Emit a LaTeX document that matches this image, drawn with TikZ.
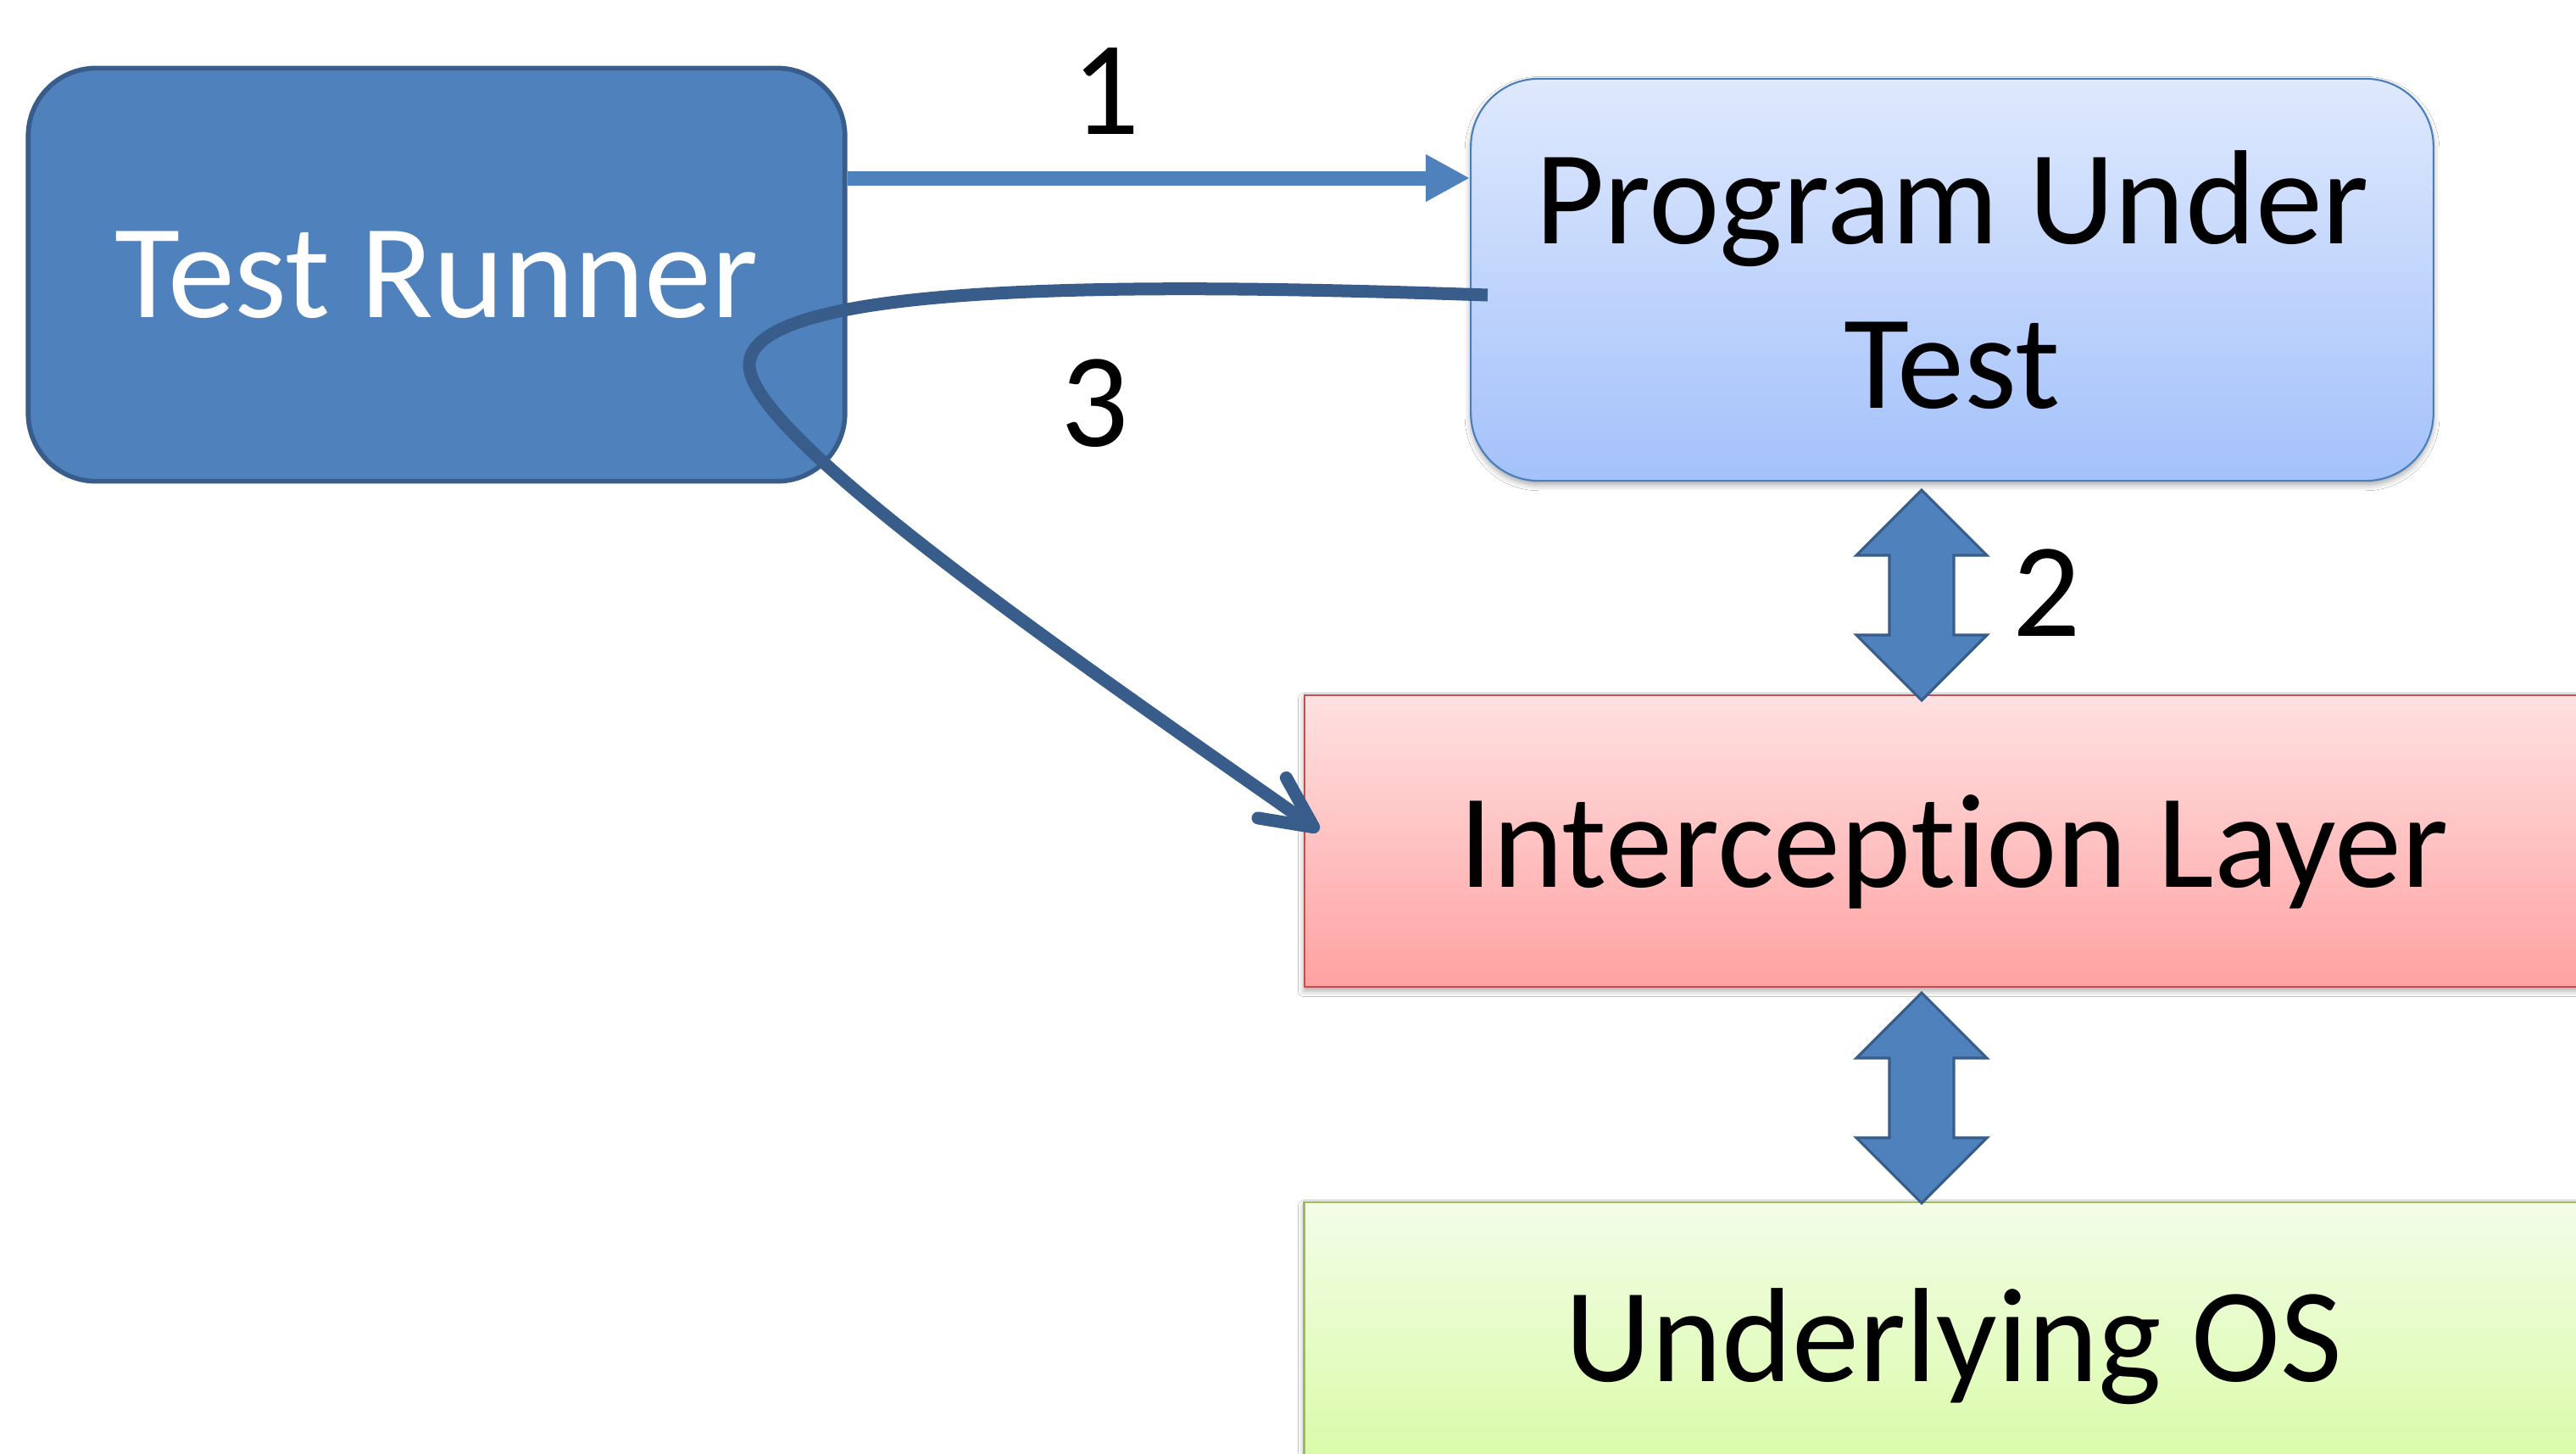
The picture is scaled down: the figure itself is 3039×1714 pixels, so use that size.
\documentclass[tikz,border=0pt]{standalone}
\usepackage{fontspec}
\setmainfont{Carlito}[Ligatures=NoCommon]
\usetikzlibrary{arrows.meta,positioning,shadows.blur}

\definecolor{accent}{HTML}{4F81BD}
\definecolor{accentdk}{HTML}{385D8A}
\definecolor{puttop}{HTML}{DFE9FD}
\definecolor{putbot}{HTML}{A3C1FB}
\definecolor{putline}{HTML}{4A7EBB}
\definecolor{ictop}{HTML}{FFE1E1}
\definecolor{icbot}{HTML}{FFA2A2}
\definecolor{icline}{HTML}{C0504D}
\definecolor{ostop}{HTML}{F3FDE8}
\definecolor{osbot}{HTML}{D9FBA6}
\definecolor{osline}{HTML}{9BBB59}

\begin{document}
\begin{tikzpicture}[
  x=0.01cm, y=-0.01cm,
  n/.style={draw,align=center,inner sep=0pt,font=\fontsize{45pt}{55pt}\selectfont},
  lbl/.style={inner sep=0pt,font=\fontsize{45pt}{55pt}\selectfont},
  shade/.style={blur shadow={shadow xshift=0pt,shadow yshift=-1.3pt,shadow blur radius=2pt,shadow opacity=35}},
  arr/.style={accent,line width=1.7mm,-{Triangle[length=5.2mm,width=5.2mm]}},
  back/.style={accentdk,line width=1.5mm,-{Straight Barb[length=6mm,width=5.8mm,round]}},
  dbl/.style={fill=accent,draw=accentdk,line width=0.9pt,line join=miter}
]
\path[use as bounding box,fill=white] (0,0) rectangle (3039,1714);

% boxes
\node[n,fill=accent,draw=accentdk,line width=1.6pt,rounded corners=0.8cm,text=white,
  minimum width=9.63cm,minimum height=4.87cm] (tr) at (515,324) {Test Runner};
\node[n,shade,draw=putline,line width=0.6pt,rounded corners=0.8cm,top color=puttop,bottom color=putbot,
  minimum width=11.35cm,minimum height=4.74cm] (put) at (2303,330) {Program Under\\Test};
\node[n,shade,draw=icline,line width=0.6pt,top color=ictop,bottom color=icbot,text depth=0pt,
  minimum width=15.32cm,minimum height=3.44cm] (ic) at (2305,992) {Interception Layer};
\node[n,shade,draw=osline,line width=0.8pt,top color=ostop,bottom color=osbot,text depth=0pt,
  minimum width=15.32cm,minimum height=3.14cm] (os) at (2305,1575) {Underlying OS};

% step labels
\node[lbl] (l1) at (1305,108) {1};
\node[lbl] (l2) at (2415,699) {2};
\node[lbl] (l3) at (1292,476) {3};

% 1: runner starts the program
\coordinate (out1) at (tr.east |- 0,210);
\draw[arr] (out1) -- (out1 -| put.west);

% 3: call comes back round to the layer
\coordinate (from3) at (1755,348);
\coordinate (to3) at (1556,980);
\draw[back] (from3) .. controls (1350,334) and (880,330) .. (884,432)
  .. controls (888,520) and (1300,800) .. (to3);

% 2: two-way block arrows between the layers
\coordinate (dbl2) at (2267,702);
\coordinate (dbl4) at (2267,1295);
\foreach \c in {dbl2,dbl4}
  \draw[dbl,shift={(\c)}] (0,-124) -- (77,-47) -- (38,-47) -- (38,47) -- (77,47) -- (0,124)
    -- (-77,47) -- (-38,47) -- (-38,-47) -- (-77,-47) -- cycle;
\end{tikzpicture}
\end{document}
